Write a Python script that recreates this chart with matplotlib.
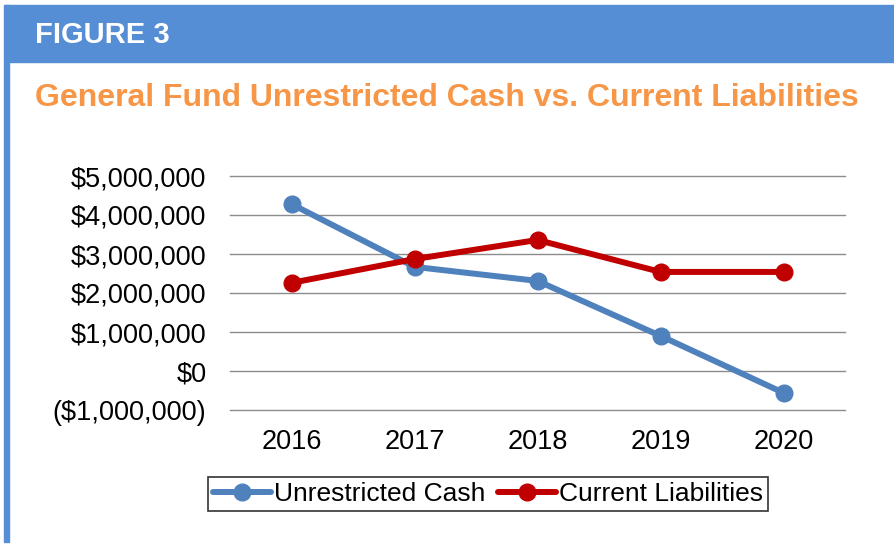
import matplotlib.pyplot as plt
from matplotlib.patches import Rectangle
from matplotlib.ticker import FuncFormatter

plt.rcParams['font.family'] = ['Liberation Sans', 'DejaVu Sans']

years = ['2016', '2017', '2018', '2019', '2020']
cash = [4280000, 2670000, 2310000, 900000, -560000]
liabilities = [2260000, 2870000, 3360000, 2540000, 2540000]

fig = plt.figure(figsize=(8.94, 5.46), dpi=100)

# header band and left border
W, H = 894, 546
fig.patches.append(Rectangle((5 / W, 1 - 62 / H), 889 / W, 57 / H, transform=fig.transFigure,
                             color='#558ED5', zorder=0))
fig.patches.append(Rectangle((4 / W, 4 / H), 5 / W, 1 - 9 / H, transform=fig.transFigure,
                             color='#558ED5', zorder=0))
fig.text(35 / W, 1 - 35 / H, 'FIGURE 3', color='white', fontsize=21, fontweight='bold',
         va='center', ha='left')
fig.text(35 / W, 1 - 98 / H, 'General Fund Unrestricted Cash vs. Current Liabilities',
         color='#F79646', fontsize=23, fontweight='bold', va='center', ha='left')

ax = fig.add_axes([230 / W, 1 - 410 / H, 615 / W, 234 / H])
x = range(len(years))
ax.plot(x, cash, color='#4F81BD', lw=4.3, marker='o', ms=12, label='Unrestricted Cash',
        solid_capstyle='round', zorder=3)
ax.plot(x, liabilities, color='#C00000', lw=4.3, marker='o', ms=12, label='Current Liabilities',
        solid_capstyle='round', zorder=3)

ax.set_xlim(-0.5, 4.5)
ax.set_ylim(-1000000, 5000000)
ax.set_yticks(range(-1000000, 5000001, 1000000))
ax.yaxis.set_major_formatter(FuncFormatter(
    lambda v, p: '$0' if v == 0 else ('${:,.0f}'.format(v) if v > 0 else '(${:,.0f})'.format(-v))))
ax.set_xticks(list(x))
ax.set_xticklabels(years)
ax.tick_params(axis='both', length=0, labelsize=19.5, colors='black')
ax.tick_params(axis='x', pad=14)
ax.tick_params(axis='y', pad=17)
ax.grid(axis='y', color='#8C8C8C', lw=1)
for gl in ax.get_ygridlines():
    gl.set_clip_on(False)
ax.set_axisbelow(True)
for s in ax.spines.values():
    s.set_visible(False)

leg = ax.legend(loc='center', bbox_to_anchor=(488 / W, 1 - 494 / H), bbox_transform=fig.transFigure,
                ncol=2, fontsize=19, frameon=True, fancybox=False, edgecolor='black',
                handlelength=2.2, handletextpad=0.1, columnspacing=0.5, borderpad=0.2,
                borderaxespad=0)
leg.get_frame().set_linewidth(1.2)

fig.savefig('out.png', dpi=100)
